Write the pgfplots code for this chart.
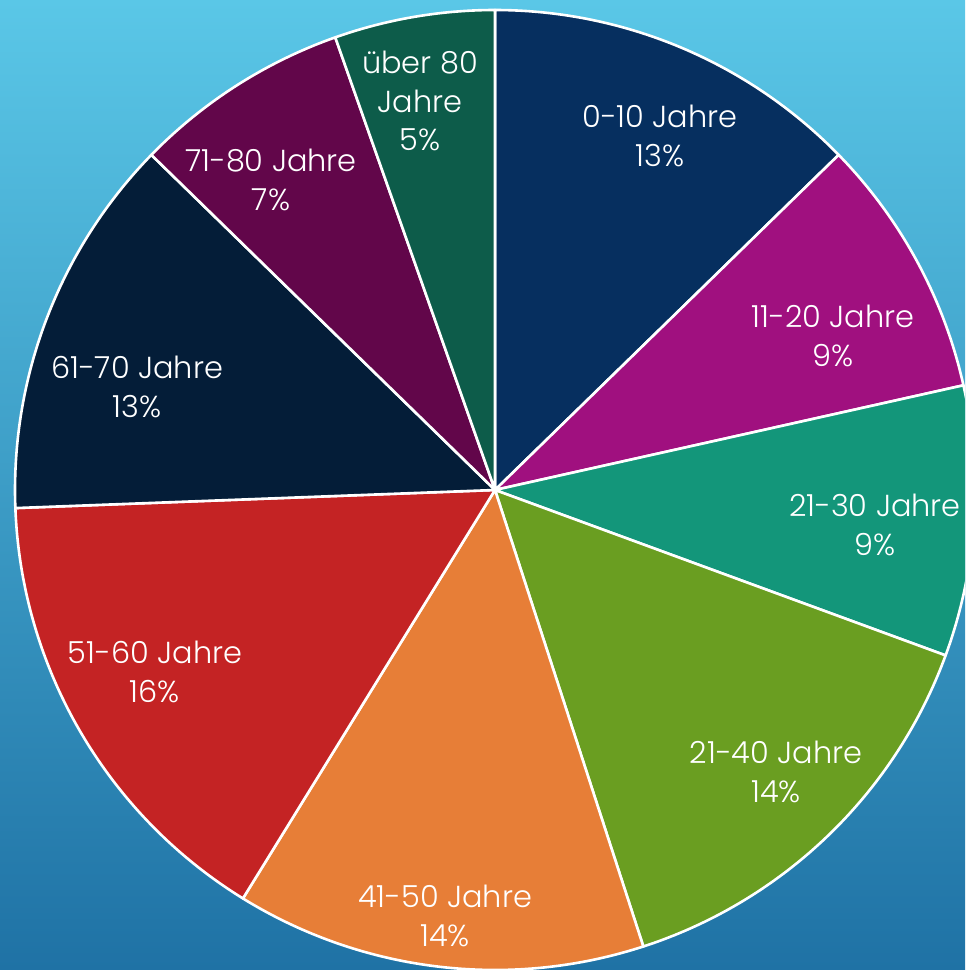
\documentclass[border=0pt]{standalone}
\usepackage{pgfplots}
\pgfplotsset{compat=1.18}
\usepackage{fontspec}
\setmainfont{Poppins Light}
\definecolor{bgtop}{HTML}{5AC7E7}
\definecolor{bgbot}{HTML}{1F72A5}
\definecolor{s1}{HTML}{062F5F}
\definecolor{s2}{HTML}{A0107F}
\definecolor{s3}{HTML}{13967A}
\definecolor{s4}{HTML}{6A9E21}
\definecolor{s5}{HTML}{E77E37}
\definecolor{s6}{HTML}{C42324}
\definecolor{s7}{HTML}{041D38}
\definecolor{s8}{HTML}{62064A}
\definecolor{s9}{HTML}{0D5C4A}
\begin{document}
\begin{tikzpicture}
\begin{axis}[name=ax,
  scale only axis, width=965bp, height=970bp,
  xmin=0, xmax=965, ymin=0, ymax=970,
  hide axis, clip=true,
  slice/.style={draw=white, line width=2.6bp, line join=round, samples=80}]
\fill[top color=bgtop, bottom color=bgbot] (axis cs:0,0) rectangle (axis cs:965,970);
% shares (%): 12.7, 8.8, 9.1, 14.4, 13.8, 15.6, 12.9, 7.3, 5.4  (angle = 90 - 3.6*cumulative)
\addplot[slice, fill=s1, domain=90:44.28]     ({495+480*cos(x)},{480+480*sin(x)}) -- (axis cs:495,480) -- cycle;
\addplot[slice, fill=s2, domain=44.28:12.6]   ({495+480*cos(x)},{480+480*sin(x)}) -- (axis cs:495,480) -- cycle;
\addplot[slice, fill=s3, domain=12.6:-20.16]  ({495+480*cos(x)},{480+480*sin(x)}) -- (axis cs:495,480) -- cycle;
\addplot[slice, fill=s4, domain=-20.16:-72]   ({495+480*cos(x)},{480+480*sin(x)}) -- (axis cs:495,480) -- cycle;
\addplot[slice, fill=s5, domain=-72:-121.68]  ({495+480*cos(x)},{480+480*sin(x)}) -- (axis cs:495,480) -- cycle;
\addplot[slice, fill=s6, domain=-121.68:-177.84] ({495+480*cos(x)},{480+480*sin(x)}) -- (axis cs:495,480) -- cycle;
\addplot[slice, fill=s7, domain=-177.84:-224.28] ({495+480*cos(x)},{480+480*sin(x)}) -- (axis cs:495,480) -- cycle;
\addplot[slice, fill=s8, domain=-224.28:-250.56] ({495+480*cos(x)},{480+480*sin(x)}) -- (axis cs:495,480) -- cycle;
\addplot[slice, fill=s9, domain=-250.56:-270] ({495+480*cos(x)},{480+480*sin(x)}) -- (axis cs:495,480) -- cycle;
\tikzset{lab/.style={text=white, align=center, font=\fontsize{30.5}{38.5}\selectfont, inner sep=0pt}}
\node[lab] at (axis cs:660,834) {0-10 Jahre\\13\%};
\node[lab] at (axis cs:833,634) {11-20 Jahre\\9\%};
\node[lab] at (axis cs:875,445) {21-30 Jahre\\9\%};
\node[lab] at (axis cs:776,198) {21-40 Jahre\\14\%};
\node[lab] at (axis cs:445,54) {41-50 Jahre\\14\%};
\node[lab] at (axis cs:155,298) {51-60 Jahre\\16\%};
\node[lab] at (axis cs:137,583) {61-70 Jahre\\13\%};
\node[lab] at (axis cs:271,790) {71-80 Jahre\\7\%};
\node[lab] at (axis cs:420,869) {über 80\\Jahre\\5\%};
\end{axis}
\pgfresetboundingbox
\path (ax.south west) rectangle (ax.north east);
\end{tikzpicture}
\end{document}
